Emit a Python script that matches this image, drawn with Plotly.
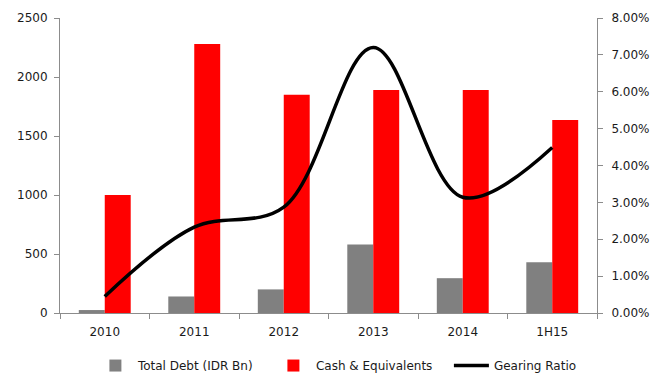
import plotly.graph_objects as go

# Financial position by period
periods = ["2010", "2011", "2012", "2013", "2014", "1H15"]
total_debt = [25, 140, 200, 580, 295, 430]            # IDR Bn
cash_equivalents = [1000, 2280, 1850, 1890, 1890, 1635]
gearing_ratio = [0.0045, 0.0233, 0.0287, 0.072, 0.0314, 0.0449]

left_ticks = [0, 500, 1000, 1500, 2000, 2500]
right_ticks = [0, 0.01, 0.02, 0.03, 0.04, 0.05, 0.06, 0.07, 0.08]

font_family = "Verdana, DejaVu Sans, sans-serif"
axis_grey = "#8c8c8c"
text_col = "#1a1a1a"

fig = go.Figure()
fig.add_trace(go.Bar(x=periods, y=total_debt, name="Total Debt (IDR Bn)",
                     marker=dict(color="#808080", line=dict(width=0))))
fig.add_trace(go.Bar(x=periods, y=cash_equivalents, name="Cash & Equivalents",
                     marker=dict(color="#ff0000", line=dict(width=0))))
fig.add_trace(go.Scatter(x=periods, y=gearing_ratio, name="Gearing Ratio",
                         mode="lines", yaxis="y2",
                         line=dict(color="black", width=3.5, shape="spline", smoothing=1.0)))

fig.update_layout(
    width=652, height=373,
    margin=dict(l=60, r=55, t=18, b=60),
    paper_bgcolor="white", plot_bgcolor="white",
    font=dict(family=font_family, size=12, color=text_col),
    barmode="group", bargap=0.42, bargroupgap=0,
    showlegend=True,
    legend=dict(orientation="h", xref="container", yref="container",
                x=0.552, xanchor="center", y=0.02, yanchor="middle",
                font=dict(size=12, color=text_col), itemwidth=35,
                entrywidth=128, entrywidthmode="pixels",
                traceorder="normal"),
    xaxis=dict(type="category", showline=True, linecolor=axis_grey, linewidth=1,
               ticks="outside", tickson="boundaries", ticklen=5, tickcolor=axis_grey,
               ticklabelstandoff=8, showgrid=False, zeroline=False, automargin=False),
    yaxis=dict(range=[0, 2500], tickvals=left_ticks, showline=True,
               linecolor=axis_grey, linewidth=1, ticks="outside", ticklen=5,
               tickcolor=axis_grey, ticklabelstandoff=4,
               showgrid=False, zeroline=False, automargin=False),
    yaxis2=dict(range=[0, 0.08], tickvals=right_ticks, tickformat=".2%",
                overlaying="y", side="right", showline=True, linecolor=axis_grey,
                linewidth=1, ticks="outside", ticklen=5, tickcolor=axis_grey,
                ticklabelstandoff=6, showgrid=False, zeroline=False, automargin=False),
)

fig.write_html("out.html")
